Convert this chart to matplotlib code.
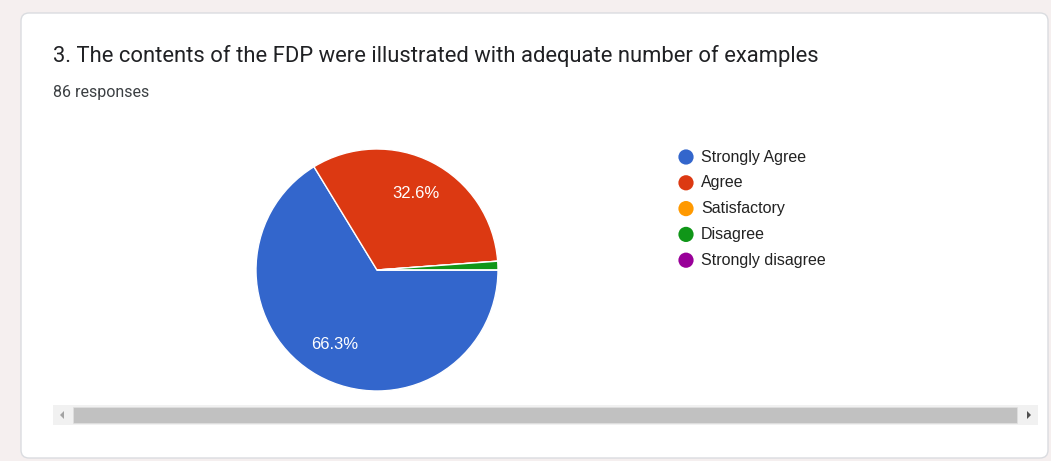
import matplotlib
matplotlib.use("Agg")
import matplotlib.pyplot as plt
from matplotlib.patches import FancyBboxPatch, Rectangle, Polygon

title = "3. The contents of the FDP were illustrated with adequate number of examples"
subtitle = "86 responses"
categories = ["Strongly Agree", "Agree", "Satisfactory", "Disagree", "Strongly disagree"]
counts = [57, 28, 0, 1, 0]
colors = ["#3366cc", "#dc3912", "#ff9900", "#109618", "#990099"]

W, H = 1051, 461
fig = plt.figure(figsize=(W / 100, H / 100), dpi=100)
fig.patch.set_facecolor("#f5efef")

# background / card drawn in pixel coordinates
bg = fig.add_axes([0, 0, 1, 1])
bg.set_xlim(0, W)
bg.set_ylim(H, 0)
bg.axis("off")
card = FancyBboxPatch((21, 13), 1027, 445, boxstyle="round,pad=0,rounding_size=8",
                      facecolor="white", edgecolor="#dadce0", linewidth=1)
bg.add_patch(card)
bg.text(53, 56, title, fontsize=15.8, family="Roboto", color="#202124", va="center", ha="left")
bg.text(53, 93, subtitle, fontsize=11.5, family="Roboto", color="#3c4043", va="center", ha="left")

# scrollbar
bg.add_patch(Rectangle((53, 405), 985, 20, facecolor="#f1f1f1", edgecolor="none"))
bg.add_patch(Rectangle((73, 407), 944, 16, facecolor="#c1c1c1", edgecolor="#e0e0e0", linewidth=0.5))
bg.add_patch(Polygon([(64, 411), (64, 419), (60, 415)], closed=True, facecolor="#a3a3a3", edgecolor="none"))
bg.add_patch(Polygon([(1027, 411), (1027, 419), (1031, 415)], closed=True, facecolor="#505050", edgecolor="none"))

# legend
for i, (cat, col) in enumerate(zip(categories, colors)):
    y = 157 + i * 25.8
    bg.scatter([686], [y], s=120, color=col, edgecolors="none")
    bg.text(701, y, cat, fontsize=11.5, family="Liberation Sans", color="#222222", va="center", ha="left")

# pie
cx, cy, r = 377, 270, 121
ax = fig.add_axes([(cx - r) / W, (H - cy - r) / H, 2 * r / W, 2 * r / H])

def fmt(p):
    return f"{p:.1f}%" if p >= 5 else ""

ax.pie(counts, colors=colors, startangle=0, counterclock=False, radius=1,
       autopct=fmt, pctdistance=0.71,
       wedgeprops=dict(edgecolor="white", linewidth=1),
       textprops=dict(color="white", fontsize=12, family="Liberation Sans"))
ax.set_xlim(-1, 1)
ax.set_ylim(-1, 1)
ax.set_aspect("equal")
ax.axis("off")

fig.savefig("out.png", dpi=100, facecolor=fig.get_facecolor())
